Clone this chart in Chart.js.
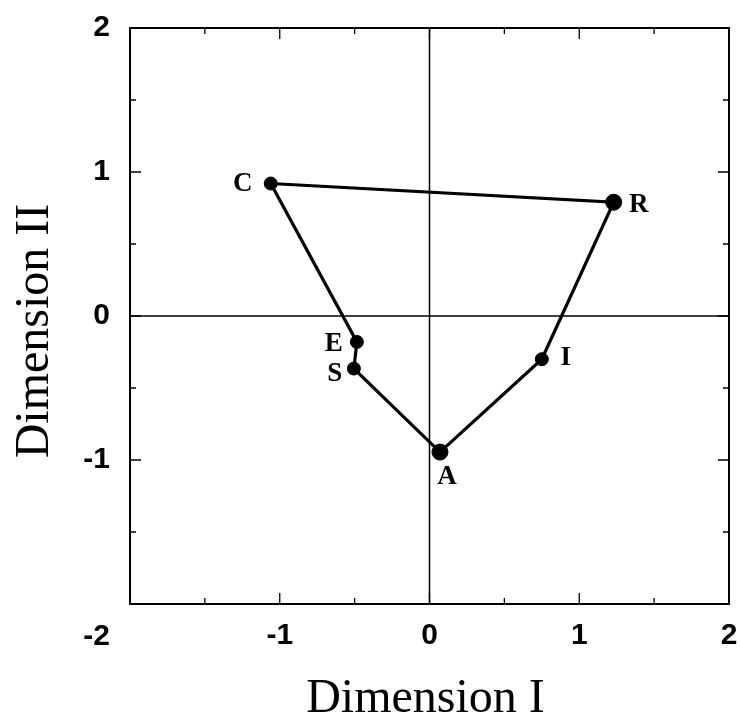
<!DOCTYPE html>
<html>
<head>
<meta charset="utf-8">
<script src="https://cdn.jsdelivr.net/npm/chart.js@4"></script>
<style>
  body { margin: 0; background: #fff; }
  #wrap { width: 740px; height: 720px; }
</style>
</head>
<body>
<div id="wrap"><canvas id="mdsChart"></canvas></div>
<script>
// configuration points
const pointLabels = ["C", "R", "I", "A", "S", "E"];
const dimI = [-1.06, 1.23, 0.75, 0.07, -0.505, -0.485];
const dimII = [0.92, 0.79, -0.30, -0.945, -0.365, -0.18];
const axisTicks = [-2, -1, 0, 1, 2];
const xTitle = "Dimension I";
const yTitle = "Dimension II";

const points = pointLabels.map((name, i) => ({ x: dimI[i], y: dimII[i] }));
const outline = points.concat([points[0]]);

// where each letter sits relative to its point
const labelOffset = {
  C: [-28, 1], R: [25, 3], I: [24, -1], A: [7, 25], S: [-19, 5], E: [-23, 2]
};

const tickFont = { family: "'Liberation Sans', Arial, sans-serif", size: 30, weight: "bold" };

// the shared -2 sits in the corner, under the y labels
const tickLabel = v => (axisTicks.includes(v) && v !== axisTicks[0]) ? String(v) : "";

const frameAndTicks = {
  id: "frameAndTicks",
  beforeDatasetsDraw(chart) {
    const { ctx, chartArea: a, scales } = chart;
    const xs = scales.x, ys = scales.y;
    ctx.save();
    ctx.strokeStyle = "#000";
    ctx.lineWidth = 1.5;

    // zero lines
    const x0 = xs.getPixelForValue(0);
    const y0 = ys.getPixelForValue(0);
    ctx.beginPath();
    ctx.moveTo(x0, a.top); ctx.lineTo(x0, a.bottom);
    ctx.moveTo(a.left, y0); ctx.lineTo(a.right, y0);
    ctx.stroke();

    // frame
    ctx.lineWidth = 2;
    ctx.strokeRect(a.left, a.top, a.right - a.left, a.bottom - a.top);

    // inward ticks on all four sides
    ctx.lineWidth = 1.3;
    ctx.beginPath();
    xs.ticks.forEach(t => {
      const len = Number.isInteger(t.value) ? 11 : 6;
      const px = xs.getPixelForValue(t.value);
      ctx.moveTo(px, a.bottom); ctx.lineTo(px, a.bottom - len);
      ctx.moveTo(px, a.top); ctx.lineTo(px, a.top + len);
    });
    ys.ticks.forEach(t => {
      const len = Number.isInteger(t.value) ? 11 : 6;
      const py = ys.getPixelForValue(t.value);
      ctx.moveTo(a.left, py); ctx.lineTo(a.left + len, py);
      ctx.moveTo(a.right, py); ctx.lineTo(a.right - len, py);
    });
    ctx.stroke();
    ctx.restore();
  },
  afterDatasetsDraw(chart) {
    const { ctx, chartArea: a } = chart;
    const meta = chart.getDatasetMeta(1);
    ctx.save();
    ctx.fillStyle = "#000";
    ctx.font = "bold 27px 'Liberation Serif', 'Times New Roman', serif";
    ctx.textAlign = "center";
    ctx.textBaseline = "middle";
    meta.data.forEach((el, i) => {
      const name = pointLabels[i];
      const off = labelOffset[name];
      ctx.fillText(name, el.x + off[0], el.y + off[1]);
    });

    // corner tick label
    ctx.font = "bold " + tickFont.size + "px " + tickFont.family;
    ctx.textAlign = "right";
    ctx.fillText(String(axisTicks[0]), a.left - 20, a.bottom + 33);

    // axis titles
    ctx.font = "48px 'Liberation Serif', 'Times New Roman', serif";
    ctx.textAlign = "center";
    ctx.textBaseline = "alphabetic";
    ctx.fillText(xTitle, (a.left + a.right) / 2 - 4, a.bottom + 108);
    ctx.translate(48, (a.top + a.bottom) / 2 + 15);
    ctx.rotate(-Math.PI / 2);
    ctx.fillText(yTitle, 0, 0);
    ctx.restore();
  }
};

new Chart(document.getElementById("mdsChart"), {
  type: "scatter",
  data: {
    datasets: [
      {
        label: "outline",
        data: outline,
        showLine: true,
        borderColor: "#000",
        borderWidth: 3.2,
        pointRadius: 0,
        fill: false
      },
      {
        label: "points",
        data: points,
        backgroundColor: "#000",
        borderColor: "#000",
        pointRadius: [6.5, 8, 6.5, 8, 6.5, 6.5],
        pointHoverRadius: 0
      }
    ]
  },
  options: {
    responsive: true,
    maintainAspectRatio: false,
    animation: false,
    events: [],
    layout: { padding: { top: 28, right: 11, left: 0, bottom: 0 } },
    plugins: {
      legend: { display: false },
      tooltip: { enabled: false }
    },
    scales: {
      x: {
        type: "linear",
        min: -2,
        max: 2,
        grid: { display: false, drawTicks: false },
        border: { display: false },
        ticks: {
          stepSize: 0.5,
          padding: 14,
          color: "#000",
          font: tickFont,
          maxRotation: 0,
          autoSkip: false,
          callback: tickLabel
        },
        afterFit: s => {
          s.height = 116;
          s.paddingLeft = 0;
          s.paddingRight = 0;
        }
      },
      y: {
        type: "linear",
        min: -2,
        max: 2,
        grid: { display: false, drawTicks: false },
        border: { display: false },
        ticks: {
          stepSize: 0.5,
          padding: 20,
          color: "#000",
          font: tickFont,
          autoSkip: false,
          callback: tickLabel
        },
        afterFit: s => {
          s.width = 130;
          s.paddingTop = 0;
          s.paddingBottom = 0;
        }
      }
    }
  },
  plugins: [frameAndTicks]
});
</script>
</body>
</html>
